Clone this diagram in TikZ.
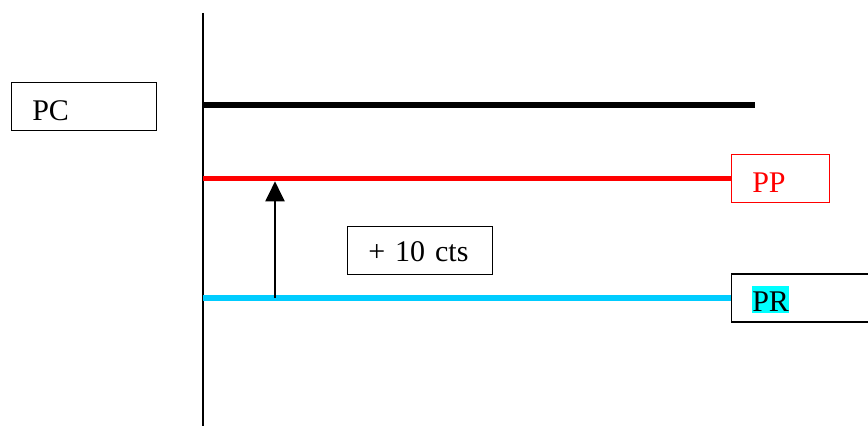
\documentclass[tikz,border=0pt]{standalone}
\usepackage{fontspec}
\setmainfont{Liberation Serif}
\usetikzlibrary{arrows.meta}
\definecolor{skyblue}{RGB}{0,204,255}
\definecolor{hlcyan}{RGB}{0,255,255}
\newcommand{\hlpr}[1]{{\setlength{\fboxsep}{0pt}\colorbox{hlcyan}{\rule[-0.5pt]{0pt}{13.5pt}#1}}}

\begin{document}
\begin{tikzpicture}[x=0.5pt, y=-0.5pt, >={Triangle[width=9.5pt, length=10pt]},
    tag/.style={draw, line width=0.75pt, minimum height=24pt, inner xsep=10.5pt,
        inner ysep=0pt, text width=#1, align=left, text height=13.9pt, text depth=0pt,
        font=\fontsize{15}{17}\selectfont},
    level/.style={line width=2.75pt}]
    \useasboundingbox (0,0) rectangle (868,426);
    % axis
    \coordinate (axtop) at (203,13);
    \coordinate (axbot) at (203,426);
    \draw[line width=1pt] (axtop) -- (axbot);
    % boxes
    \node[tag=51.5pt, anchor=west] (pc) at (10.5,106.5) {PC};
    \node[tag=28pt, anchor=west, draw=red, text=red] (pp) at (730.5,178.5) {PP};
    \node[tag=51.5pt, anchor=west] (pr) at (730.5,298) {\hlpr{PR}};
    \node[tag=51.5pt, anchor=west, text height=11.4pt] (gap) at (346.5,250.5) {+ 10 cts};
    % price levels
    \coordinate (pcend) at (755,105);
    \draw[level] (axtop |- pcend) -- (pcend);
    \draw[level, red] (axtop |- pp.west) -- (pp.west);
    \draw[level, skyblue] (axtop |- pr.west) -- (pr.west);
    % increase
    \coordinate (lo) at (275,298);
    \coordinate (hi) at (275,178.5);
    \draw[->, line width=1pt, shorten >=1.4pt] (lo) -- (hi);
\end{tikzpicture}
\end{document}
